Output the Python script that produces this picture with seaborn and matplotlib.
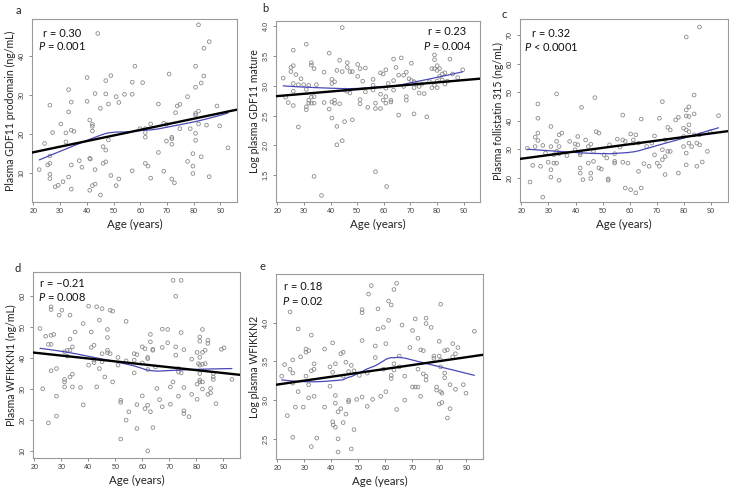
import numpy as np
import matplotlib
matplotlib.use("Agg")
import matplotlib.pyplot as plt
from matplotlib.ticker import FormatStrFormatter
import seaborn as sns

# ---- data (age in years, plasma values) ----
age_a = [22.2, 24.2, 26.2, 26.2, 26.2, 25.4, 26.2, 26.2, 27.2, 28.2, 29.3, 30.3, 31.1, 32.2, 32.2,
         33.2, 33.2, 33.2, 34.2, 34.2, 34.2, 34.2, 35.2, 37.2, 38.2, 40.1, 40.1, 41.1, 41.3, 41.1,
         42.1, 42.1, 42.1, 41.1, 42.1, 43.1, 43.1, 43.1, 44.1, 45.1, 45.1, 46.1, 46.1, 47.1, 47.1,
         47.1, 47.1, 48.1, 48.1, 49.0, 49.0, 51.0, 51.0, 52.0, 52.0, 54.1, 57.0, 57.0, 57.0, 58.0,
         59.9, 60.9, 61.9, 61.9, 61.9, 61.9, 62.9, 63.9, 63.9, 66.8, 66.8, 68.8, 68.8, 69.8, 69.8,
         70.8, 71.8, 71.8, 71.8, 71.8, 72.8, 73.2, 73.8, 74.8, 74.8, 77.7, 77.7, 78.7, 79.7, 79.7,
         79.7, 80.7, 80.7, 80.7, 80.7, 80.7, 80.7, 81.8, 81.8, 81.8, 82.8, 82.8, 83.8, 83.8, 84.8,
         85.8, 85.8, 88.7, 89.7, 92.8]
gdf11_pro = [10.9, 17.6, 27.4, 14.4, 12.5, 12.1, 9.7, 8.6, 20.4, 6.5, 6.9, 22.6, 7.8, 20.3, 18.0,
             31.4, 25.7, 9.0, 28.2, 21.0, 12.1, 5.9, 20.7, 13.2, 11.5, 34.5, 28.4, 13.8, 13.6, 23.6,
             22.5, 22.0, 20.8, 5.6, 6.8, 7.2, 10.9, 30.4, 45.8, 26.6, 4.4, 16.8, 12.5, 33.7, 30.3,
             15.9, 12.9, 27.7, 18.5, 35.0, 9.4, 29.6, 6.8, 28.1, 8.5, 30.2, 33.3, 30.2, 10.6, 37.4,
             21.4, 33.2, 21.4, 20.4, 19.2, 12.5, 11.8, 22.6, 8.7, 27.7, 15.3, 22.8, 10.5, 22.5, 18.2,
             35.4, 19.2, 18.8, 17.4, 8.5, 7.5, 25.5, 27.2, 27.6, 21.4, 29.6, 13.0, 21.4, 15.0, 11.8,
             9.9, 37.4, 32.0, 25.3, 24.9, 20.2, 18.4, 48.0, 25.9, 22.6, 33.1, 14.2, 34.9, 42.0, 22.3,
             43.7, 9.1, 27.2, 22.1, 16.5]

age_b = [22.2, 23.1, 24.1, 25.1, 25.1, 26.0, 26.0, 26.0, 26.0, 26.0, 27.0, 27.9, 27.9, 28.9, 29.9,
         30.9, 30.9, 30.9, 30.9, 31.8, 31.8, 31.8, 32.8, 32.8, 32.8, 32.8, 33.8, 33.8, 33.8, 33.8,
         34.7, 36.6, 37.6, 37.6, 39.5, 39.5, 40.5, 40.5, 40.5, 40.5, 41.5, 41.5, 41.5, 42.4, 42.4,
         42.4, 43.4, 43.4, 44.4, 44.4, 44.4, 45.3, 45.3, 46.3, 46.3, 46.3, 47.3, 47.3, 48.2, 48.2,
         50.2, 50.2, 51.1, 51.1, 51.1, 52.1, 53.1, 53.1, 54.0, 56.0, 56.0, 56.0, 56.9, 56.9, 56.9,
         58.8, 58.8, 58.8, 59.8, 59.8, 60.8, 60.8, 60.8, 60.8, 61.1, 61.7, 62.7, 62.7, 63.7, 63.7,
         63.7, 64.6, 65.6, 65.6, 66.6, 67.5, 67.5, 68.5, 68.5, 68.5, 69.5, 70.4, 70.4, 71.4, 71.4,
         71.4, 72.4, 73.3, 73.3, 74.3, 75.2, 76.2, 77.2, 78.1, 78.1, 79.1, 79.1, 79.1, 79.1, 80.1,
         80.1, 80.1, 80.1, 81.0, 81.0, 82.0, 82.0, 83.0, 83.0, 83.9, 84.9, 85.9, 87.8, 89.7]
gdf11_mat = [3.13, 2.81, 2.72, 3.31, 3.24, 3.60, 3.34, 3.04, 2.91, 2.67, 3.19, 3.02, 2.31, 3.12, 3.02,
             3.70, 2.94, 2.65, 2.60, 3.01, 2.76, 2.71, 3.39, 3.35, 2.81, 2.71, 3.29, 2.82, 2.71, 1.48,
             3.02, 1.16, 3.23, 2.72, 3.55, 2.61, 3.11, 3.04, 2.73, 2.46, 3.07, 2.76, 2.71, 3.26, 2.32,
             2.01, 2.70, 3.43, 3.24, 2.08, 3.98, 2.93, 2.40, 3.39, 3.31, 2.91, 2.88, 3.24, 3.24, 2.43,
             3.36, 3.16, 3.29, 2.77, 2.70, 3.08, 3.30, 2.90, 2.64, 3.11, 3.01, 2.93, 2.71, 2.62, 1.56,
             3.22, 2.86, 2.62, 3.20, 2.76, 3.27, 2.96, 2.82, 2.71, 1.31, 3.04, 2.76, 2.73, 3.09, 2.93,
             3.45, 3.31, 3.18, 2.51, 3.47, 2.99, 3.18, 2.82, 2.76, 3.23, 3.12, 3.38, 3.09, 3.07, 2.97,
             2.53, 3.03, 2.99, 2.88, 3.03, 2.87, 2.48, 3.07, 3.29, 2.97, 3.52, 3.44, 3.29, 3.01, 3.34,
             3.26, 3.08, 2.97, 3.29, 3.16, 3.20, 3.10, 3.22, 3.03, 3.08, 3.45, 3.20, 3.14, 3.27]

age_c = [22.2, 23.2, 24.2, 25.1, 25.1, 26.1, 26.1, 26.1, 26.1, 27.1, 27.9, 27.9, 28.9, 29.9, 30.9,
         30.9, 30.9, 30.9, 32.0, 32.0, 33.0, 33.0, 33.0, 33.0, 33.9, 33.9, 33.9, 33.9, 34.9, 36.8,
         37.8, 39.8, 39.8, 40.8, 40.8, 41.7, 41.7, 41.7, 41.7, 42.2, 42.7, 43.7, 44.7, 44.7, 45.6,
         45.6, 45.6, 46.6, 46.6, 47.1, 47.6, 48.6, 48.6, 49.5, 50.5, 51.5, 52.0, 52.0, 52.5, 54.4,
         54.4, 54.4, 55.4, 56.4, 57.4, 57.4, 57.4, 58.3, 58.3, 59.3, 60.3, 60.3, 61.3, 61.3, 62.2,
         62.2, 63.2, 63.2, 64.2, 64.2, 65.2, 66.2, 67.1, 68.1, 69.1, 69.1, 70.1, 70.9, 70.9, 72.0,
         72.0, 72.0, 73.0, 73.0, 73.0, 74.0, 74.0, 74.9, 74.9, 76.9, 77.9, 77.9, 79.8, 79.8, 79.8,
         80.8, 80.8, 80.8, 80.8, 80.8, 80.8, 81.8, 81.8, 81.8, 81.8, 81.8, 82.8, 83.7, 83.7, 83.7,
         84.7, 84.7, 85.7, 85.7, 85.7, 86.7, 88.6, 89.6, 92.7]
follistatin = [30.4, 18.6, 24.4, 31.0, 34.3, 45.9, 40.9, 35.7, 33.1, 24.1, 13.3, 31.4, 28.7, 25.5, 38.0,
               31.0, 22.9, 20.3, 28.1, 25.2, 49.4, 32.8, 29.3, 25.2, 28.5, 31.0, 35.1, 19.2, 35.7, 27.8,
               32.8, 31.9, 29.9, 34.5, 31.6, 28.7, 28.1, 23.5, 21.7, 44.7, 19.4, 33.3, 31.0, 25.2, 19.8,
               21.7, 31.8, 29.3, 25.8, 48.1, 36.2, 35.7, 23.5, 23.1, 28.1, 27.0, 19.7, 19.2, 31.6, 28.5,
               25.8, 25.2, 33.6, 30.8, 33.3, 25.5, 42.0, 16.5, 32.8, 25.2, 35.4, 15.9, 33.3, 32.2, 35.1,
               14.8, 22.3, 32.2, 40.6, 16.5, 25.0, 31.0, 24.1, 32.2, 34.7, 28.1, 25.2, 40.9, 24.1, 46.7,
               29.9, 26.4, 33.3, 27.5, 21.2, 37.7, 29.3, 36.8, 29.3, 40.3, 21.7, 41.2, 34.5, 31.0, 37.4,
               69.3, 43.8, 41.7, 36.8, 28.7, 24.6, 44.9, 41.5, 38.6, 36.2, 32.2, 31.0, 35.1, 42.4, 49.0,
               32.2, 24.1, 72.8, 35.1, 31.6, 25.6, 29.3, 36.2, 41.8]

age_d = [22.1, 23.1, 24.2, 25.2, 25.2, 26.2, 26.2, 26.2, 26.2, 26.2, 27.2, 28.2, 28.2, 28.2, 29.2,
         30.2, 31.2, 31.2, 31.2, 31.2, 32.2, 32.2, 33.2, 33.2, 33.2, 33.2, 34.1, 34.1, 34.1, 35.1,
         37.1, 38.1, 38.1, 40.1, 40.1, 41.1, 41.1, 42.1, 42.1, 42.1, 43.1, 43.1, 44.1, 44.1, 45.1,
         45.1, 45.1, 46.1, 47.1, 47.1, 47.1, 47.1, 48.1, 48.1, 49.0, 49.0, 51.0, 51.0, 52.0, 52.0,
         52.0, 54.0, 54.0, 54.0, 55.0, 57.0, 57.0, 57.0, 58.0, 58.0, 58.0, 60.0, 60.0, 60.0, 61.0,
         61.0, 62.0, 62.0, 62.0, 62.0, 62.0, 63.0, 63.0, 63.0, 63.9, 63.9, 63.9, 64.9, 65.4, 66.4,
         67.4, 67.4, 67.4, 69.4, 69.4, 70.4, 70.4, 71.4, 71.4, 72.4, 72.4, 72.4, 73.4, 73.4, 73.4,
         74.4, 74.4, 74.4, 75.4, 75.4, 75.4, 75.4, 77.3, 78.3, 78.3, 80.3, 80.3, 80.3, 80.8, 81.3,
         81.3, 81.3, 81.3, 81.3, 81.3, 81.3, 82.3, 82.3, 82.3, 82.3, 82.3, 83.3, 83.3, 84.3, 84.3,
         84.3, 85.3, 85.3, 86.3, 86.3, 86.3, 87.3, 89.3, 90.3, 93.2]
wfikkn1 = [49.5, 30.1, 47.0, 44.4, 19.1, 56.5, 55.6, 47.3, 44.4, 35.9, 47.6, 36.6, 27.7, 21.3, 53.8,
           55.4, 42.0, 33.1, 32.3, 30.7, 42.5, 40.6, 42.5, 53.8, 46.1, 33.9, 43.6, 34.8, 30.7, 48.4,
           30.5, 51.1, 24.9, 56.7, 37.7, 43.4, 48.4, 44.1, 39.3, 38.5, 56.5, 30.7, 52.2, 36.6, 55.9,
           38.8, 41.4, 33.9, 49.2, 46.6, 42.5, 41.7, 55.4, 41.4, 55.1, 32.3, 40.2, 37.7, 26.4, 25.7,
           13.9, 51.8, 39.1, 20.0, 22.7, 41.4, 39.3, 35.2, 41.1, 25.0, 17.3, 43.6, 38.4, 27.8, 43.0,
           23.7, 40.2, 39.8, 36.3, 24.8, 10.1, 47.6, 45.2, 22.7, 42.8, 42.5, 17.6, 37.1, 30.2, 26.6,
           49.3, 43.4, 24.3, 49.2, 44.9, 30.7, 25.1, 65.0, 32.3, 59.9, 43.6, 40.9, 36.6, 35.5, 27.7,
           65.0, 48.2, 35.2, 42.7, 30.5, 23.0, 22.1, 21.1, 39.6, 28.3, 41.8, 31.6, 26.7, 38.2, 46.8,
           45.4, 40.2, 37.7, 35.0, 32.9, 32.3, 49.2, 41.8, 38.0, 32.3, 30.0, 38.2, 42.5, 45.7, 44.7,
           28.3, 30.2, 28.8, 35.0, 33.9, 33.1, 25.3, 42.8, 43.3, 33.1]

age_e = [21.6, 22.7, 23.7, 24.7, 24.7, 25.7, 25.7, 25.7, 25.7, 26.7, 27.7, 27.7, 28.6, 29.6, 30.6,
         30.6, 30.6, 31.6, 31.6, 31.6, 32.6, 32.6, 32.6, 33.6, 33.6, 33.6, 34.6, 37.5, 37.5, 39.5,
         39.5, 40.5, 40.5, 40.5, 40.7, 41.5, 41.5, 41.5, 41.5, 42.5, 42.5, 42.5, 43.5, 43.5, 44.4,
         44.4, 44.4, 45.4, 45.4, 46.4, 46.4, 46.4, 47.4, 47.4, 48.4, 48.4, 49.4, 50.4, 51.4, 51.4,
         51.4, 51.4, 53.3, 53.3, 53.8, 54.8, 55.3, 56.3, 56.3, 57.3, 57.3, 58.3, 59.3, 59.3, 60.2,
         60.2, 61.2, 61.2, 62.2, 62.2, 62.2, 63.2, 63.2, 63.2, 64.2, 64.2, 65.2, 65.2, 66.2, 67.2,
         67.2, 69.1, 70.1, 70.1, 71.1, 71.1, 72.1, 72.1, 72.1, 73.1, 73.1, 74.1, 74.1, 75.1, 75.1,
         75.1, 75.1, 77.0, 78.0, 78.0, 79.0, 79.0, 80.0, 80.0, 80.0, 80.5, 80.5, 80.5, 80.5, 81.0,
         81.0, 82.0, 82.0, 82.0, 83.0, 83.0, 84.0, 84.0, 85.0, 85.0, 86.0, 86.0, 86.9, 88.9, 89.9,
         93.0]
wfikkn2 = [3.31, 3.46, 2.80, 4.14, 3.40, 3.52, 3.35, 3.22, 2.52, 2.91, 3.92, 3.11, 3.56, 2.91, 3.66,
           3.62, 3.31, 3.64, 3.20, 3.03, 3.84, 3.38, 2.40, 3.47, 3.40, 3.05, 2.51, 3.66, 2.91, 3.43,
           3.18, 3.74, 3.36, 2.72, 2.68, 2.65, 3.47, 3.06, 2.96, 2.85, 2.50, 2.33, 3.60, 2.89, 3.62,
           3.31, 2.71, 3.49, 2.82, 3.37, 3.00, 2.98, 3.45, 2.37, 3.38, 2.62, 3.01, 3.32, 4.17, 4.13,
           3.77, 3.04, 2.92, 3.35, 4.37, 4.48, 3.01, 3.70, 3.55, 4.18, 3.92, 3.05, 3.94, 3.40, 3.11,
           3.73, 4.28, 4.03, 4.23, 3.32, 3.28, 4.43, 3.47, 3.39, 4.51, 2.88, 3.57, 3.43, 3.97, 3.31,
           3.00, 3.68, 3.90, 3.17, 4.05, 3.17, 3.80, 3.40, 3.17, 3.65, 3.05, 3.64, 3.34, 4.06, 3.99,
           3.31, 3.26, 3.94, 3.57, 3.54, 3.17, 3.13, 3.76, 3.57, 2.95, 4.24, 3.52, 3.43, 3.11, 3.09,
           2.97, 3.64, 3.35, 3.29, 3.65, 2.77, 3.20, 2.89, 3.73, 3.56, 3.60, 3.14, 3.68, 3.20, 3.09,
           3.89]

panels = [
    ("a", age_a, gdf11_pro, "Plasma GDF11 prodomain (ng/mL)", [10, 20, 30, 40], (2.6, 49.5),
     "r = 0.30", "0.001", "="),
    ("b", age_b, gdf11_mat, "Log plasma GDF11 mature", [1.5, 2.0, 2.5, 3.0, 3.5, 4.0], (1.05, 4.09),
     "r = 0.23", "0.004", "="),
    ("c", age_c, follistatin, "Plasma follistatin 315 (ng/mL)", [20, 30, 40, 50, 60, 70], (11.6, 75.6),
     "r = 0.32", "0.0001", "<"),
    ("d", age_d, wfikkn1, "Plasma WFIKKN1 (ng/mL)", [10, 20, 30, 40, 50, 60], (7.8, 67.7),
     "r = \u22120.21", "0.008", "="),
    ("e", age_e, wfikkn2, "Log plasma WFIKKN2", [2.5, 3.0, 3.5, 4.0], (2.24, 4.63),
     "r = 0.18", "0.02", "="),
]
age_ticks = [20, 30, 40, 50, 60, 70, 80, 90]

# axes boxes in pixels (left, top, right, bottom) and stat text placement
W, H = 729, 492
boxes = [(32, 19, 237, 202), (276, 21, 480, 202), (520, 19, 728, 202),
         (33, 272, 240, 458), (276, 274, 483, 459)]
text_pos = [(0.146, 0.92, 0.85), (0.838, 0.94, 0.86), (0.15, 0.923, 0.847),
            (0.14, 0.94, 0.866), (0.13, 0.93, 0.854)]
letter_pos = [(18, 10), (265, 8), (504, 14), (18, 268), (262, 266)]


def lowess(x, y, f=2 / 3, iters=3):
    # locally weighted linear smoother with robustness steps (like R lowess)
    order = np.argsort(x, kind="stable")
    x = np.asarray(x, float)[order]
    y = np.asarray(y, float)[order]
    n = len(x)
    r = int(np.ceil(f * n))
    robust = np.ones(n)
    fit = np.zeros(n)
    for _ in range(iters + 1):
        for i in range(n):
            d = np.abs(x - x[i])
            h = max(np.sort(d)[r - 1], 1e-9)
            w = np.clip(1 - (d / h) ** 3, 0, 1) ** 3 * robust
            X = np.column_stack([np.ones(n), x - x[i]])
            sw = np.sqrt(w)
            beta = np.linalg.lstsq(X * sw[:, None], y * sw, rcond=None)[0]
            fit[i] = beta[0]
        res = y - fit
        s = np.median(np.abs(res))
        robust = np.clip(1 - (res / (6 * s)) ** 2, 0, 1) ** 2
    return x, fit


sns.set_style("white")
plt.rcParams["font.family"] = ["Lato", "DejaVu Sans"]
plt.rcParams["mathtext.fontset"] = "custom"
plt.rcParams["mathtext.it"] = "Lato:italic"
plt.rcParams["mathtext.rm"] = "Lato"

fig = plt.figure(figsize=(W / 100, H / 100), dpi=100)

for i, (letter, x, y, ylabel, yticks, ylim, rtxt, pval, op) in enumerate(panels):
    l, t, r, b = boxes[i]
    ax = fig.add_axes([l / W, 1 - b / H, (r - l) / W, (b - t) / H])
    ax.set_xlim(19.5, 96.2)
    sns.regplot(x=np.array(x), y=np.array(y), ax=ax, ci=None, truncate=False,
                scatter_kws=dict(facecolors="none", edgecolors="#8c8c8c", s=7,
                                 linewidths=0.6, alpha=1, zorder=2),
                line_kws=dict(color="black", lw=1.7, zorder=4))
    gx, gy = lowess(x, y)
    sns.lineplot(x=gx, y=gy, ax=ax, color="#4848b8", lw=0.9, zorder=3,
                 estimator=None, sort=False)
    ax.set_xlim(19.5, 96.2)
    ax.set_ylim(*ylim)
    ax.set_xticks(age_ticks)
    ax.set_yticks(yticks)
    if isinstance(yticks[0], float):
        ax.yaxis.set_major_formatter(FormatStrFormatter("%.1f"))
    for s in ax.spines.values():
        s.set_color("#9a9a9a")
        s.set_linewidth(0.8)
    ax.tick_params(axis="both", which="major", direction="out", length=2.5, width=0.6,
                   color="#777777", labelsize=5.2, labelcolor="#444444", pad=2,
                   bottom=True, left=True, labelfontfamily="Liberation Sans")
    plt.setp(ax.get_yticklabels(), rotation=90, va="center")
    ax.set_xlabel("Age (years)", fontsize=8.3, color="#222222", labelpad=3)
    ax.set_ylabel(ylabel, fontsize=7.6, color="#222222", labelpad=2)

    tx, ty_r, ty_p = text_pos[i]
    ax.text(tx, ty_r, rtxt, transform=ax.transAxes, ha="center", va="center",
            fontsize=8, color="#111111")
    ax.text(tx, ty_p, r"$P$ " + op + " " + pval, transform=ax.transAxes, ha="center",
            va="center", fontsize=8, color="#111111")
    lx, ly = letter_pos[i]
    fig.text(lx / W, 1 - ly / H, letter, fontsize=8, ha="center", va="center", color="#222222")

fig.savefig("out.png", dpi=100)
